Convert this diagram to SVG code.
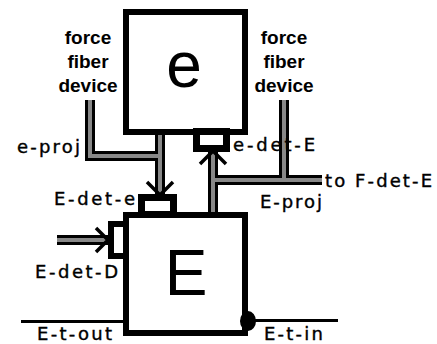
<svg xmlns="http://www.w3.org/2000/svg" xmlns:xlink="http://www.w3.org/1999/xlink" width="437" height="344" viewBox="0 0 437 344">
<style>
.box{fill:#fff;stroke:#000;stroke-width:6}
.det{fill:#fff;stroke:#000;stroke-width:7}
.wb{fill:none;stroke:#000;stroke-width:10}
.wg{fill:none;stroke:#888;stroke-width:4}
.chev{fill:none;stroke:#000;stroke-width:3.5}
.thin{fill:none;stroke:#000;stroke-width:3}
.lbl{font-family:"DejaVu Sans",sans-serif;font-size:18px;fill:#000;stroke:#000;stroke-width:0.4}
.ffd{font-family:"Liberation Sans",Arial,sans-serif;font-size:19px;font-weight:bold;text-anchor:middle;fill:#000}
.big{font-family:"Liberation Sans",Arial,sans-serif;font-size:64px;text-anchor:middle;fill:#000}
</style>
<defs>
<path id="c1" d="M90,100 V156 H160"/>
<path id="c2" d="M160,133 V194"/>
<path id="c3" d="M213,214 V152"/>
<path id="c4" d="M213,180 H322"/>
<path id="c5" d="M284,100 V180"/>
<path id="c6" d="M57,240 H108"/>
</defs>
<g id="connectors">
<use xlink:href="#c1" class="wb"/>
<use xlink:href="#c2" class="wb"/>
<use xlink:href="#c3" class="wb"/>
<use xlink:href="#c4" class="wb"/>
<use xlink:href="#c5" class="wb"/>
<use xlink:href="#c6" class="wb"/>
<use xlink:href="#c1" class="wg"/>
<use xlink:href="#c2" class="wg"/>
<use xlink:href="#c3" class="wg"/>
<use xlink:href="#c4" class="wg"/>
<use xlink:href="#c5" class="wg"/>
<use xlink:href="#c6" class="wg"/>
<path class="chev" d="M147,182 L160,195 L173,182"/>
<path class="chev" d="M200,164 L213,151 L226,164"/>
<path class="chev" d="M96,228 L108,240 L96,252"/>
<path class="thin" d="M21,321.5 H124"/>
<path class="thin" d="M250,320.5 H338"/>
</g>
<g id="node-e">
<rect class="box" x="126" y="12" width="119" height="120"/>
<text class="big" x="184" y="87">e</text>
</g>
<g id="node-E">
<rect class="box" x="126" y="215" width="119" height="118"/>
<text class="big" x="186" y="295">E</text>
<ellipse cx="248" cy="321" rx="8" ry="10" fill="#000"/>
</g>
<g id="det-E-det-e">
<rect class="det" x="141.5" y="197.5" width="32" height="17"/>
<text class="lbl" x="54" y="205" textLength="81" lengthAdjust="spacing">E-det-e</text>
</g>
<g id="det-e-det-E">
<rect class="det" x="196.5" y="131.5" width="30" height="17"/>
<text class="lbl" x="233" y="151" textLength="82" lengthAdjust="spacing">e-det-E</text>
</g>
<g id="det-E-det-D">
<rect class="box" x="111" y="224" width="15" height="32"/>
<text class="lbl" x="35" y="278" textLength="83" lengthAdjust="spacing">E-det-D</text>
</g>
<g id="ffd-left">
<text class="ffd" x="88" y="44">force</text>
<text class="ffd" x="88" y="68">fiber</text>
<text class="ffd" x="88" y="92">device</text>
</g>
<g id="ffd-right">
<text class="ffd" x="284" y="44">force</text>
<text class="ffd" x="284" y="68">fiber</text>
<text class="ffd" x="284" y="92">device</text>
</g>
<g id="labels">
<text class="lbl" x="17" y="153" textLength="63" lengthAdjust="spacing">e-proj</text>
<text class="lbl" x="260" y="208" textLength="62" lengthAdjust="spacing">E-proj</text>
<text class="lbl" x="325" y="187" textLength="107" lengthAdjust="spacing">to F-det-E</text>
<text class="lbl" x="37" y="340" textLength="75" lengthAdjust="spacing">E-t-out</text>
<text class="lbl" x="264" y="340" textLength="59" lengthAdjust="spacing">E-t-in</text>
</g>
</svg>
